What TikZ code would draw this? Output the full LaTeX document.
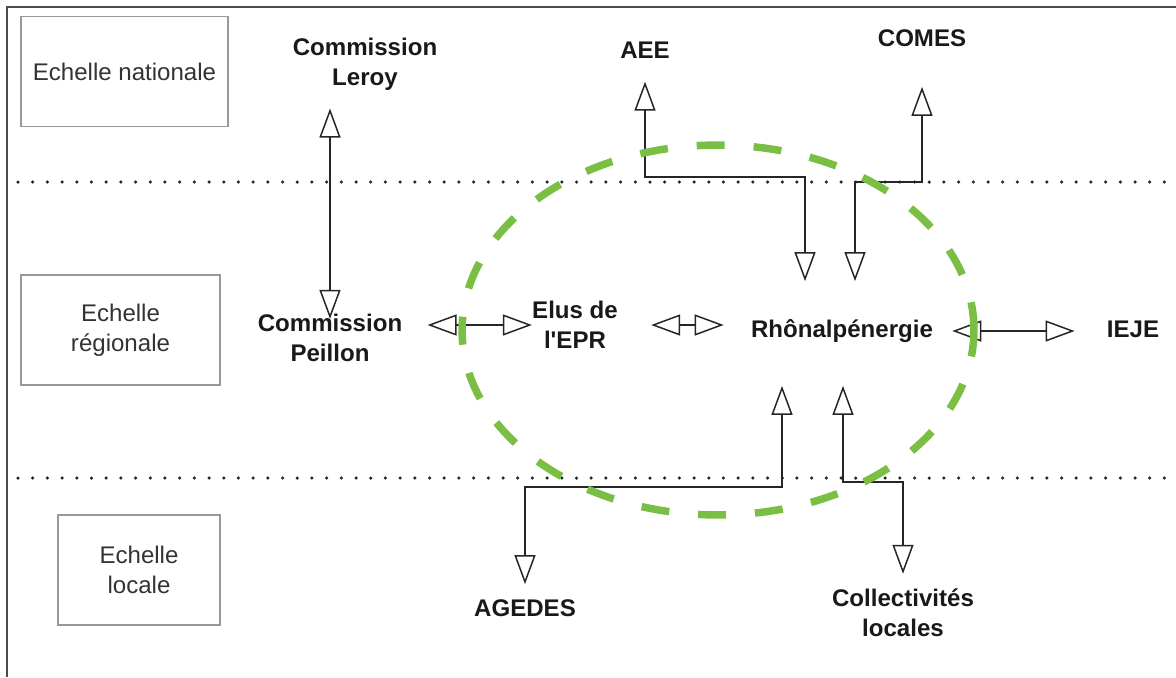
\documentclass[tikz,border=0pt]{standalone}
\usepackage{fontspec}
\setmainfont{Liberation Sans}
\usetikzlibrary{arrows.meta,positioning}
\definecolor{eprgreen}{RGB}{122,190,68}

\begin{document}
\begin{tikzpicture}[x=0.02cm,y=-0.02cm,
    rel/.style={{Triangle[open,length=0.58cm,width=0.42cm]}-{Triangle[open,length=0.58cm,width=0.42cm]},
      line width=0.03cm,draw=black!85}]
  \tikzstyle{level}=[draw=black!40,line width=0.03cm,text=black!80,align=center,
    font=\fontsize{13.7}{17}\selectfont,minimum height=2.2cm]
  \tikzstyle{actor}=[inner sep=0pt,align=center,text=black!90,
    font=\fontsize{13.7}{17}\selectfont\bfseries]
  \tikzstyle{frontier}=[line width=0.07cm,line cap=round,dash pattern=on 0pt off 0.294cm,draw=black!85]
  \tikzstyle{epr}=[draw=eprgreen,line width=0.15cm,dash pattern=on 0.56cm off 0.58cm]

  \useasboundingbox (0,0) rectangle (1176,677);

  %--- Frame (cut at right and bottom) ---
  \draw[line width=0.04cm,black!70] (7,677) -- (7,7) -- (1176,7);

  %--- Scales ---
  \node[level, minimum width=4.14cm] (nat) at (124.5,71.5) {Echelle nationale};
  \node[level, minimum width=3.98cm] (reg) at (120.5,330)  {Echelle\\régionale};
  \node[level, minimum width=3.24cm] (loc) at (139,570)    {Echelle\\locale};

  %--- Borders between scales ---
  \draw[frontier] (18,182) -- (1170,182);
  \draw[frontier] (18,478) -- (1170,478);

  %--- Actors ---
  \node[actor] (leroy)   at (365,64)  {Commission\\Leroy};
  \node[actor] (aee)     at (645,50)  {AEE};
  \node[actor] (comes)   at (922,38)  {COMES};
  \node[actor] (peillon) at (330,338) {Commission\\Peillon};
  \node[actor] (elus)    at (575,325) {Elus de\\l\textquotesingle EPR};
  \node[actor] (rhone)   at (842,331) {Rhônalpénergie};
  \node[actor] (ieje)    at (1133,329) {IEJE};
  \node[actor] (agedes)  at (525,608) {AGEDES};
  \node[actor] (coll)    at (903,613) {Collectivités\\locales};

  %--- Elbows ---
  \coordinate (aeeknee)    at (805,177);
  \coordinate (comesknee)  at (855,182);
  \coordinate (agedesknee) at (782,487);
  \coordinate (collknee)   at (843,482);

  %--- Relations ---
  % national <-> regional
  \draw[rel, shorten <=0.36cm, shorten >=-0.1cm] (peillon.north |- leroy.south) -- (peillon.north);
  \draw[rel, shorten <=0.76cm, shorten >=0.46cm] (rhone.north -| aeeknee) -- (aeeknee) -| (aee.south);
  \draw[rel, shorten <=0.76cm, shorten >=0.8cm]  (rhone.north -| comesknee) -- (comesknee) -| (comes.south);

  % inside the region
  \draw[rel, shorten <=0.5cm]                     (elus.west -| peillon.east) -- (elus.west);
  \draw[rel, shorten <=0.66cm, shorten >=0.54cm] (elus.east) -- (rhone.west |- elus.east);
  \draw[rel, shorten <=0.38cm, shorten >=0.64cm] (rhone.east) -- (ieje.west |- rhone.east);

  % regional <-> local
  \draw[rel, shorten <=0.86cm, shorten >=0.3cm]  (rhone.south -| agedesknee) -- (agedesknee) -| (agedes.north);
  \draw[rel, shorten <=0.86cm, shorten >=0.3cm]  (rhone.south -| collknee) -- (collknee) -| (coll.north);

  %--- EPR perimeter ---
  \draw[epr] (718,330) ellipse [x radius=5.12cm, y radius=3.7cm];
\end{tikzpicture}
\end{document}
